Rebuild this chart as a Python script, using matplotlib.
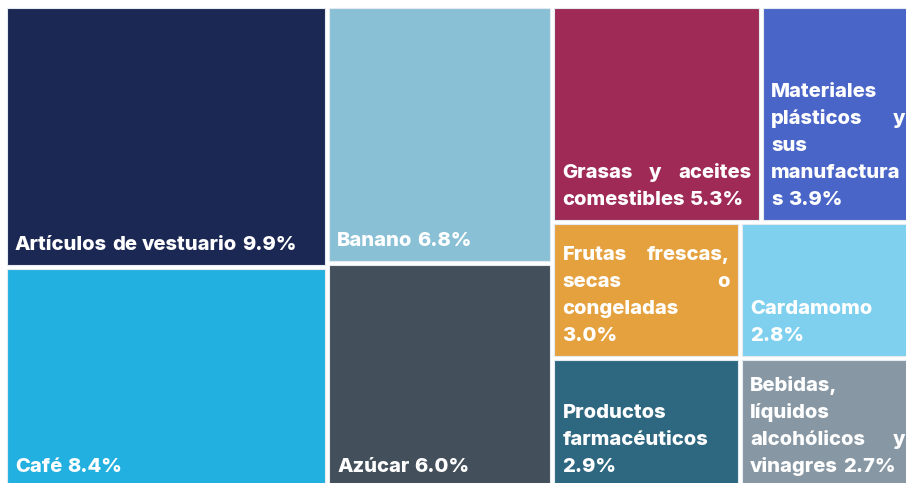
import matplotlib
matplotlib.use("Agg")
import matplotlib.pyplot as plt
from matplotlib.patches import Rectangle

# labels (line breaks as they appear in the chart), shares in %, colours
labels = [
    "Artículos de vestuario",
    "Café",
    "Banano",
    "Azúcar",
    "Grasas y aceites\ncomestibles",
    "Materiales\nplásticos y\nsus\nmanufactura\ns",
    "Frutas frescas,\nsecas o\ncongeladas\n",
    "Cardamomo\n",
    "Productos\nfarmacéuticos\n",
    "Bebidas,\nlíquidos\nalcohólicos y\nvinagres",
]
shares = [9.9, 8.4, 6.8, 6.0, 5.3, 3.9, 3.0, 2.8, 2.9, 2.7]
colors = ["#1c2854", "#22b0e0", "#89c0d6", "#434f5a", "#9e2a55",
          "#4a65c8", "#e6a13f", "#7ed0ee", "#2e6880", "#8797a3"]

# treemap structure: columns -> rows -> item indices
layout = [[[0], [1]], [[2], [3]], [[4, 5], [6, 7], [8, 9]]]

W, H = 906, 483
X0, X1, Y0, Y1 = 5, 915, 6, 489
GAP = 2
PAD = 8
FS = 14.5
LINE = 27
BASE = 15

plt.rcParams["font.family"] = ["Inter", "DejaVu Sans"]
fig = plt.figure(figsize=(W / 100, H / 100), dpi=100)
ax = fig.add_axes([0, 0, 1, 1])
ax.set_xlim(0, W)
ax.set_ylim(H, 0)
ax.axis("off")
renderer = fig.canvas.get_renderer()

total = sum(shares)
rects = {}
x = X0
for col in layout:
    col_sum = sum(shares[i] for row in col for i in row)
    cw = col_sum / total * (X1 - X0)
    y = Y0
    for row in col:
        row_sum = sum(shares[i] for i in row)
        rh = row_sum / col_sum * (Y1 - Y0)
        xx = x
        for i in row:
            iw = shares[i] / row_sum * cw
            rects[i] = (xx + GAP, y + GAP, iw - 2 * GAP, rh - 2 * GAP)
            xx += iw
        y += rh
    x += cw


def draw_line(words, x, y, width, justify):
    items = [ax.text(x, y, w, color="white", fontsize=FS, fontweight="heavy",
                     ha="left", va="baseline") for w in words]
    widths = [t.get_window_extent(renderer).width for t in items]
    if justify and len(words) > 1:
        space = (width - sum(widths)) / (len(words) - 1)
    else:
        space = 5
    cx = x
    for t, w in zip(items, widths):
        t.set_x(cx)
        cx += w + space


for i, (rx, ry, rw, rh) in rects.items():
    ax.add_patch(Rectangle((rx, ry), rw, rh, facecolor=colors[i],
                           edgecolor="#e4ebf0", linewidth=0.8))
    raw = labels[i]
    if raw.endswith("\n"):
        lines = raw[:-1].split("\n") + [f"{shares[i]:.1f}%"]
    else:
        lines = raw.split("\n")
        lines[-1] = lines[-1] + f" {shares[i]:.1f}%"
    inner = rw - 2 * PAD
    base_y = ry + rh - BASE
    n = len(lines)
    for k, ln in enumerate(lines):
        yy = base_y - (n - 1 - k) * LINE
        draw_line(ln.split(" "), rx + PAD, yy, inner, justify=(k < n - 1))

fig.savefig("out.png", dpi=100)
